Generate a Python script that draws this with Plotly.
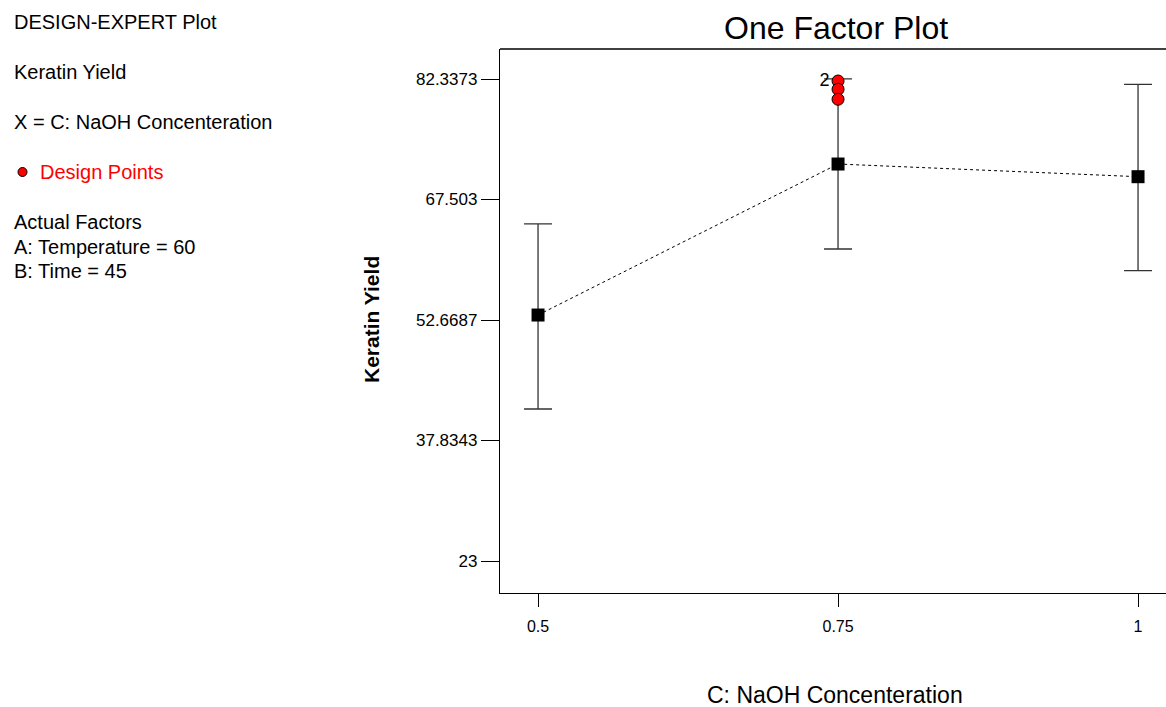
import plotly.graph_objects as go

# Data
naoh = [0.5, 0.75, 1.0]
mean_yield = [53.28, 71.87, 70.31]
upper_ci = [64.49, 82.34, 81.68]
lower_ci = [41.71, 61.41, 58.74]

design_x = [0.75, 0.75, 0.75]
design_y = [82.09, 81.07, 79.84]
design_label = ["2", "", ""]

ytick_vals = [23, 37.8343, 52.6687, 67.503, 82.3373]
ytick_text = ["23", "37.8343", "52.6687", "67.503", "82.3373"]
xtick_vals = [0.5, 0.75, 1.0]
xtick_text = ["0.5", "0.75", "1"]

FONT = "Liberation Sans, Arial, sans-serif"

err_plus = [u - m for u, m in zip(upper_ci, mean_yield)]
err_minus = [m - l for m, l in zip(mean_yield, lower_ci)]

fig = go.Figure()
fig.add_trace(go.Scatter(
    x=naoh, y=mean_yield, mode="lines+markers",
    line=dict(color="black", width=1, dash="3px,3px"),
    marker=dict(symbol="square", size=13, color="black"),
    error_y=dict(type="data", symmetric=False, array=err_plus, arrayminus=err_minus,
                 color="#333333", thickness=1.3, width=14),
    showlegend=False, hoverinfo="skip"))

fig.add_trace(go.Scatter(
    x=design_x, y=design_y, mode="markers+text",
    text=design_label, textposition="middle left",
    textfont=dict(family=FONT, size=18, color="black"),
    marker=dict(symbol="circle", size=12, color="#ff0000", line=dict(color="black", width=1)),
    showlegend=False, hoverinfo="skip"))

W, H = 1166, 707
L, R, T, B = 500, 0, 49, 114
pw = W - L - R
ph = H - T - B

def px(x):
    return (x - L) / pw

def py(y):
    return (H - B - y) / ph

annotations = []
left_lines = [
    ("DESIGN-EXPERT Plot", 22, "black"),
    ("Keratin Yield", 72, "black"),
    ("X = C: NaOH Concenteration", 122, "black"),
    ("Design Points", 172, "#ff0000"),
    ("Actual Factors", 222, "black"),
    ("A: Temperature = 60", 247, "black"),
    ("B: Time = 45", 271, "black"),
]
for txt, y, col in left_lines:
    xx = 38 if txt == "Design Points" else 12
    annotations.append(dict(text=txt, x=px(xx), y=py(y), xref="paper", yref="paper",
                            xanchor="left", yanchor="middle", showarrow=False,
                            font=dict(family=FONT, size=20, color=col)))

annotations.append(dict(text="<b>Keratin Yield</b>", x=px(371), y=py(320), xref="paper", yref="paper",
                        xanchor="center", yanchor="middle", textangle=-90, showarrow=False,
                        font=dict(family=FONT, size=21, color="black")))
annotations.append(dict(text="C: NaOH Concenteration", x=px(835), y=py(695), xref="paper", yref="paper",
                        xanchor="center", yanchor="middle", showarrow=False,
                        font=dict(family=FONT, size=23, color="black")))
annotations.append(dict(text="One Factor Plot", x=px(836), y=py(28), xref="paper", yref="paper",
                        xanchor="center", yanchor="middle", showarrow=False,
                        font=dict(family=FONT, size=32, color="black")))

shapes = [
    dict(type="line", xref="paper", yref="paper", x0=0, x1=1, y0=1, y1=1,
         line=dict(color="black", width=1.3)),
    dict(type="circle", xref="paper", yref="paper",
         x0=px(18), x1=px(27), y0=py(167.5), y1=py(176.5),
         fillcolor="#ff0000", line=dict(color="black", width=1)),
]

fig.update_layout(
    width=W, height=H,
    margin=dict(l=L, r=R, t=T, b=B, autoexpand=False),
    paper_bgcolor="white", plot_bgcolor="white",
    font=dict(family=FONT, color="black"),
    annotations=annotations, shapes=shapes,
    xaxis=dict(range=[0.4683, 1.0233], tickvals=xtick_vals, ticktext=xtick_text,
               showgrid=False, zeroline=False, showline=True, linecolor="black", linewidth=1.3,
               ticks="outside", ticklen=13, tickcolor="black", tickwidth=1,
               ticklabelstandoff=6,
               tickfont=dict(family=FONT, size=16, color="black"), fixedrange=True),
    yaxis=dict(range=[19.06, 86.03], tickvals=ytick_vals, ticktext=ytick_text,
               showgrid=False, zeroline=False, showline=True, linecolor="black", linewidth=1.3,
               ticks="outside", ticklen=18, tickcolor="black", tickwidth=1,
               tickfont=dict(family=FONT, size=17, color="black"), fixedrange=True),
)

fig.write_html("out.html", config={"displayModeBar": False},
               post_script="document.body.style.margin='0px';document.body.style.overflow='hidden';")
